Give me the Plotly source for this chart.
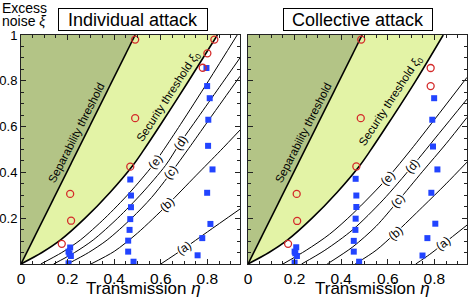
import numpy as np
import plotly.graph_objects as go

# ---------------- data ----------------
# separability threshold (same in both panels)
sep_eta = [0.0, 0.245, 0.49]
sep_xi = [0.0, 0.5, 1.0]

# security threshold xi_0
thrL_eta = [0.0, 0.09, 0.17, 0.275, 0.38, 0.48, 0.525, 0.6, 0.72, 0.843]
thrL_xi = [0.0, 0.05, 0.105, 0.2, 0.31, 0.43, 0.495, 0.61, 0.80, 1.0]
thrR_eta = [0.0, 0.09, 0.17, 0.275, 0.38, 0.48, 0.525, 0.6, 0.72, 0.838]
thrR_xi = [0.0, 0.05, 0.105, 0.2, 0.31, 0.43, 0.495, 0.61, 0.80, 1.0]

# contour curves (a)-(e), individual attack
curvesL = {
    "(e)": ([0.085, 0.175, 0.255, 0.36, 0.465, 0.565, 0.61, 0.685, 0.805, 0.928],
            [0.0, 0.05, 0.105, 0.2, 0.31, 0.43, 0.495, 0.61, 0.80, 1.0]),
    "(d)": ([0.14, 0.23, 0.31, 0.415, 0.52, 0.62, 0.684, 0.76, 0.85, 0.94],
            [0.0, 0.05, 0.105, 0.2, 0.31, 0.43, 0.53, 0.64, 0.77, 0.90]),
    "(c)": ([0.2, 0.29, 0.37, 0.475, 0.56, 0.645, 0.72, 0.80, 0.87, 0.94],
            [0.0, 0.05, 0.105, 0.2, 0.29, 0.40, 0.505, 0.62, 0.72, 0.82]),
    "(b)": ([0.3, 0.4, 0.5, 0.63, 0.75, 0.856, 0.94],
            [0.0, 0.055, 0.135, 0.26, 0.385, 0.495, 0.585]),
    "(a)": ([0.6, 0.7, 0.8, 0.94],
            [0.0, 0.068, 0.14, 0.24]),
}
labelsL_eta = {"(e)": 0.576, "(d)": 0.684, "(c)": 0.645, "(b)": 0.63, "(a)": 0.70}

# contour curves (a)-(e), collective attack
curvesR = {
    "(e)": ([0.15, 0.25, 0.35, 0.45, 0.6, 0.7, 0.8, 0.94],
            [0.0, 0.06, 0.13, 0.22, 0.377, 0.5, 0.63, 0.815]),
    "(d)": ([0.23, 0.33, 0.45, 0.58, 0.706, 0.82, 0.94],
            [0.0, 0.06, 0.15, 0.28, 0.428, 0.57, 0.72]),
    "(c)": ([0.34, 0.45, 0.55, 0.643, 0.75, 0.85, 0.94],
            [0.0, 0.075, 0.165, 0.274, 0.405, 0.525, 0.64]),
    "(b)": ([0.46, 0.55, 0.634, 0.75, 0.85, 0.94],
            [0.0, 0.06, 0.136, 0.25, 0.35, 0.445]),
    "(a)": ([0.72, 0.78, 0.841, 0.94],
            [0.0, 0.042, 0.09, 0.17]),
}
labelsR_eta = {"(e)": 0.6, "(d)": 0.706, "(c)": 0.643, "(b)": 0.634, "(a)": 0.841}

# measured points: blue squares (secure) and red circles
sqL_eta = [0.211, 0.204, 0.208, 0.214, 0.204,
           0.469, 0.472, 0.472, 0.469, 0.466, 0.46, 0.46, 0.483,
           0.796, 0.799, 0.81, 0.804, 0.803, 0.822, 0.799, 0.813, 0.778, 0.758]
sqL_xi = [0.072, 0.054, 0.044, 0.035, 0.003,
          0.369, 0.299, 0.248, 0.196, 0.149, 0.102, 0.054, 0.01,
          0.856, 0.777, 0.724, 0.63, 0.516, 0.413, 0.311, 0.175, 0.113, 0.038]
ciL_eta = [0.49, 0.83, 0.80, 0.78, 0.49, 0.469, 0.211, 0.215, 0.175]
ciL_xi = [0.98, 0.98, 0.92, 0.857, 0.637, 0.425, 0.306, 0.189, 0.088]

sqR_eta = [0.207, 0.2, 0.203, 0.21, 0.2,
           0.462, 0.465, 0.465, 0.462, 0.461, 0.454, 0.454, 0.477,
           0.799, 0.791, 0.794, 0.813, 0.787, 0.804, 0.770, 0.749]
sqR_xi = [0.073, 0.054, 0.047, 0.035, 0.006,
          0.372, 0.299, 0.249, 0.198, 0.149, 0.101, 0.054, 0.01,
          0.724, 0.63, 0.513, 0.413, 0.311, 0.176, 0.113, 0.037]
ciR_eta = [0.486, 0.784, 0.784, 0.484, 0.465, 0.209, 0.211, 0.172]
ciR_xi = [0.98, 0.856, 0.777, 0.637, 0.426, 0.306, 0.188, 0.088]

x_ticks = [0, 0.2, 0.4, 0.6, 0.8]
x_ticktext = ["0", "0.2", "0.4", "0.6", "0.8"]
y_ticks = [0.2, 0.4, 0.6, 0.8, 1.0]
y_ticktext = ["0.2", "0.4", "0.6", "0.8", "1"]

# ---------------- styling ----------------
W, H = 469, 299
ML, MR, MT, MB = 21, 2, 35, 35
XMAX = 0.94
DARK = "#b3c486"
LIGHT = "#e3f3a6"
BLUE = "#2244ff"
RED = "#d42a2a"
FONT = "Liberation Sans, Arial, sans-serif"

plot_w = W - ML - MR
dom_L = [0.0, 219 / plot_w]
dom_R = [1 - 219 / plot_w, 1.0]
px_per_x = 219 / XMAX
px_per_y = (H - MT - MB) / 1.0

fig = go.Figure()
annotations = []


def panel(xa, ya, thr_eta, thr_xi, curves, label_eta, sq_eta, sq_xi, ci_eta, ci_xi,
          sec_pos):
    # dark region (left of separability)
    fig.add_trace(go.Scatter(
        x=sep_eta + [0, 0], y=sep_xi + [1, 0], xaxis=xa, yaxis=ya,
        mode="lines", fill="toself", fillcolor=DARK, line=dict(width=0),
        hoverinfo="skip"))
    # light region between separability and security threshold
    fig.add_trace(go.Scatter(
        x=sep_eta + thr_eta[::-1], y=sep_xi + thr_xi[::-1], xaxis=xa, yaxis=ya,
        mode="lines", fill="toself", fillcolor=LIGHT, line=dict(width=0),
        hoverinfo="skip"))
    # boundaries
    fig.add_trace(go.Scatter(x=sep_eta, y=sep_xi, xaxis=xa, yaxis=ya, mode="lines",
                             line=dict(color="black", width=1.6), hoverinfo="skip"))
    fig.add_trace(go.Scatter(x=thr_eta, y=thr_xi, xaxis=xa, yaxis=ya, mode="lines",
                             line=dict(color="black", width=1.6, shape="spline",
                                       smoothing=0.8), hoverinfo="skip"))
    # contour curves
    for name, (ce, cx) in curves.items():
        fig.add_trace(go.Scatter(x=ce, y=cx, xaxis=xa, yaxis=ya, mode="lines",
                                 line=dict(color="black", width=1, shape="spline",
                                           smoothing=0.8), hoverinfo="skip"))
        le = label_eta[name]
        lx = float(np.interp(le, ce, cx))
        slope = float(np.interp(le, ce[1:], np.diff(cx) / np.diff(ce)))
        ang = -np.degrees(np.arctan(slope * px_per_y / px_per_x))
        annotations.append(dict(
            x=le, y=lx, xref=xa, yref=ya, text=name, showarrow=False,
            textangle=ang, bgcolor="white", borderpad=0,
            font=dict(size=12, color="black", family=FONT)))
    # points
    fig.add_trace(go.Scatter(x=sq_eta, y=sq_xi, xaxis=xa, yaxis=ya, mode="markers",
                             marker=dict(symbol="square", size=6, color=BLUE,
                                         line=dict(width=0)), hoverinfo="skip"))
    fig.add_trace(go.Scatter(x=ci_eta, y=ci_xi, xaxis=xa, yaxis=ya, mode="markers",
                             marker=dict(symbol="circle-open", size=7, color=RED,
                                         line=dict(width=1.3, color=RED)),
                             hoverinfo="skip"))
    # region labels
    annotations.append(dict(
        x=0.24, y=0.575, xref=xa, yref=ya, text="Separability threshold",
        showarrow=False, textangle=-63,
        font=dict(size=11.5, color="black", family=FONT)))
    annotations.append(dict(
        x=sec_pos[0], y=sec_pos[1], xref=xa, yref=ya,
        text="Security threshold <i>ξ</i><sub>0</sub>",
        showarrow=False, textangle=-57,
        font=dict(size=11.5, color="black", family=FONT)))


panel("x", "y", thrL_eta, thrL_xi, curvesL, labelsL_eta,
      sqL_eta, sqL_xi, ciL_eta, ciL_xi, (0.633, 0.73))
panel("x2", "y2", thrR_eta, thrR_xi, curvesR, labelsR_eta,
      sqR_eta, sqR_xi, ciR_eta, ciR_xi, (0.613, 0.713))

# panel titles (boxed)
for cx, txt in [((133 - ML) / plot_w, "Individual attack"),
                ((358 - ML) / plot_w, "Collective attack")]:
    annotations.append(dict(
        x=cx, y=(H - MB - 20) / (H - MT - MB), xref="paper", yref="paper",
        text=txt, showarrow=False, xanchor="center", yanchor="middle",
        bordercolor="black", borderwidth=1, bgcolor="white", borderpad=1,
        width=146, height=19,
        font=dict(size=18, color="black", family=FONT)))

# axis titles
ph = H - MT - MB
annotations.append(dict(x=-ML / plot_w, y=(H - MB - 8) / ph, xref="paper",
                        yref="paper", text="Excess", showarrow=False,
                        xanchor="left", yanchor="middle",
                        font=dict(size=14, color="black", family=FONT)))
annotations.append(dict(x=-ML / plot_w, y=(H - MB - 21) / ph, xref="paper",
                        yref="paper", text="noise <i>ξ</i>", showarrow=False,
                        xanchor="left", yanchor="middle",
                        font=dict(size=14, color="black", family=FONT)))
for cx in [(143 - ML) / plot_w, (372 - ML) / plot_w]:
    annotations.append(dict(x=cx, y=(H - MB - 288) / ph, xref="paper",
                            yref="paper", text="Transmission <i>η</i>",
                            showarrow=False, xanchor="center", yanchor="middle",
                            font=dict(size=17, color="black", family=FONT)))

axis_common = dict(showline=True, linecolor="#222", linewidth=1, mirror="ticks",
                   ticks="inside", ticklen=5, tickcolor="#222", showgrid=False,
                   zeroline=False, fixedrange=True, automargin=False,
                   minor=dict(dtick=0.05, ticks="inside", ticklen=3,
                              tickcolor="#222", showgrid=False))

fig.update_layout(
    width=W, height=H, margin=dict(l=ML, r=MR, t=MT, b=MB, autoexpand=False),
    paper_bgcolor="white", plot_bgcolor="white", showlegend=False,
    font=dict(family=FONT, color="black"),
    xaxis=dict(domain=dom_L, range=[0, XMAX], anchor="y", tickvals=x_ticks,
               ticktext=x_ticktext, tickfont=dict(size=15.5), **axis_common),
    yaxis=dict(domain=[0, 1], range=[0, 1], anchor="x", tickvals=y_ticks,
               ticktext=y_ticktext, tickfont=dict(size=13), **axis_common),
    xaxis2=dict(domain=dom_R, range=[0, XMAX], anchor="y2", tickvals=x_ticks,
                ticktext=x_ticktext, tickfont=dict(size=15.5), **axis_common),
    yaxis2=dict(domain=[0, 1], range=[0, 1], anchor="x2", tickvals=y_ticks,
                showticklabels=False, **axis_common),
    annotations=annotations,
)

fig.write_html(
    "out.html",
    config={"displayModeBar": False},
    post_script="document.body.style.margin='0';document.body.style.padding='0';",
)
